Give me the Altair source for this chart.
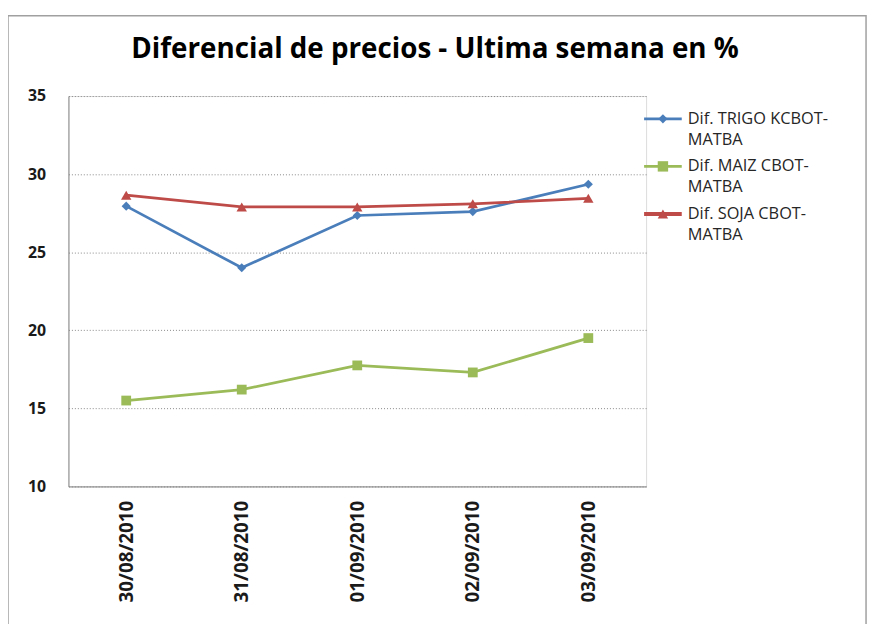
import altair as alt
import pandas as pd

titulo = "Diferencial de precios - Ultima semana en %"
fechas = ["30/08/2010", "31/08/2010", "01/09/2010", "02/09/2010", "03/09/2010"]
series = ["Dif. TRIGO KCBOT-MATBA", "Dif. MAIZ CBOT-MATBA", "Dif. SOJA CBOT-MATBA"]
legend_lines = [["Dif. TRIGO KCBOT-", "MATBA"], ["Dif. MAIZ CBOT-", "MATBA"], ["Dif. SOJA CBOT-", "MATBA"]]
trigo = [27.95, 24.0, 27.35, 27.6, 29.35]
maiz = [15.5, 16.2, 17.75, 17.3, 19.5]
soja = [28.65, 27.9, 27.9, 28.1, 28.45]

colors = ["#4A7EBB", "#9BBB59", "#BE4B48"]
shapes = ["diamond", "square", "triangle-up"]
widths = [2.75, 2.75, 4]
sizes = [85, 110, 110]

rows = []
for s, vals in zip(series, [trigo, maiz, soja]):
    for f, v in zip(fechas, vals):
        rows.append({"fecha": f, "serie": s, "valor": v})
df = pd.DataFrame(rows)

FONT = "Open Sans"
W, H = 583, 394

x_enc = alt.X("fecha:N", sort=fechas, title=None,
              scale=alt.Scale(paddingInner=0, paddingOuter=0.5),
              axis=alt.Axis(labelAngle=270, labelFont=FONT, labelFontSize=19,
                            labelFontWeight="bold", labelColor="#1a1a1a",
                            labelPadding=14, ticks=False, domainColor="#888888",
                            grid=False))
y_enc = alt.Y("valor:Q", title=None,
              scale=alt.Scale(domain=[10, 35], nice=False, zero=False),
              axis=alt.Axis(values=[10, 15, 20, 25, 30, 35], labelFont=FONT,
                            labelFontSize=16, labelFontWeight="bold",
                            labelColor="#1a1a1a", labelPadding=23, ticks=False,
                            domainColor="#888888", gridColor="#888888",
                            gridDash=[1, 2], gridWidth=1))
color_enc = alt.Color("serie:N", scale=alt.Scale(domain=series, range=colors), legend=None)

lines = alt.Chart(df).mark_line().encode(
    x=x_enc, y=y_enc, color=color_enc,
    strokeWidth=alt.StrokeWidth("serie:N", scale=alt.Scale(domain=series, range=widths), legend=None),
)
points = alt.Chart(df).mark_point(filled=True, opacity=1).encode(
    x=alt.X("fecha:N", sort=fechas), y="valor:Q", color=color_enc,
    shape=alt.Shape("serie:N", scale=alt.Scale(domain=series, range=shapes), legend=None),
    size=alt.Size("serie:N", scale=alt.Scale(domain=series, range=sizes), legend=None),
)

layers = [lines, points]

# manual legend
leg_df = pd.DataFrame({"serie": series})
for i, s in enumerate(series):
    base = alt.Chart(leg_df[leg_df.serie == s])
    yy = 23 + 48 * i
    layers.append(base.mark_rule(color=colors[i], strokeWidth=widths[i]).encode(
        x=alt.value(581), x2=alt.value(619), y=alt.value(yy)))
    layers.append(base.mark_point(filled=True, opacity=1, color=colors[i], shape=shapes[i],
                                  size=sizes[i]).encode(x=alt.value(600), y=alt.value(yy)))
    layers.append(base.mark_text(align="left", baseline="middle", font=FONT, fontSize=16.5,
                                 lineBreak="\n", lineHeight=21, color="#262626").encode(
        x=alt.value(625), y=alt.value(yy), text=alt.value("\n".join(legend_lines[i]))))

# title
layers.append(alt.Chart(leg_df.head(1)).mark_text(
    align="center", baseline="alphabetic", font=FONT, fontSize=28, fontWeight="bold",
    color="#000000").encode(x=alt.value(370), y=alt.value(-38), text=alt.value(titulo)))

# outer frame
layers.append(alt.Chart(leg_df.head(1)).mark_rect(fill=None, stroke="#a0a0a0", strokeWidth=1.5).encode(
    x=alt.value(-61), x2=alt.value(805), y=alt.value(-81), y2=alt.value(560)))

chart = alt.layer(*layers).properties(
    width=W, height=H,
    autosize=alt.AutoSizeParams(type="none"),
    padding={"left": 61, "top": 86, "right": 227, "bottom": 136},
).configure_view(stroke=None).configure(background="white")

chart.save("out.html", embed_options={"renderer": "svg", "actions": False})
